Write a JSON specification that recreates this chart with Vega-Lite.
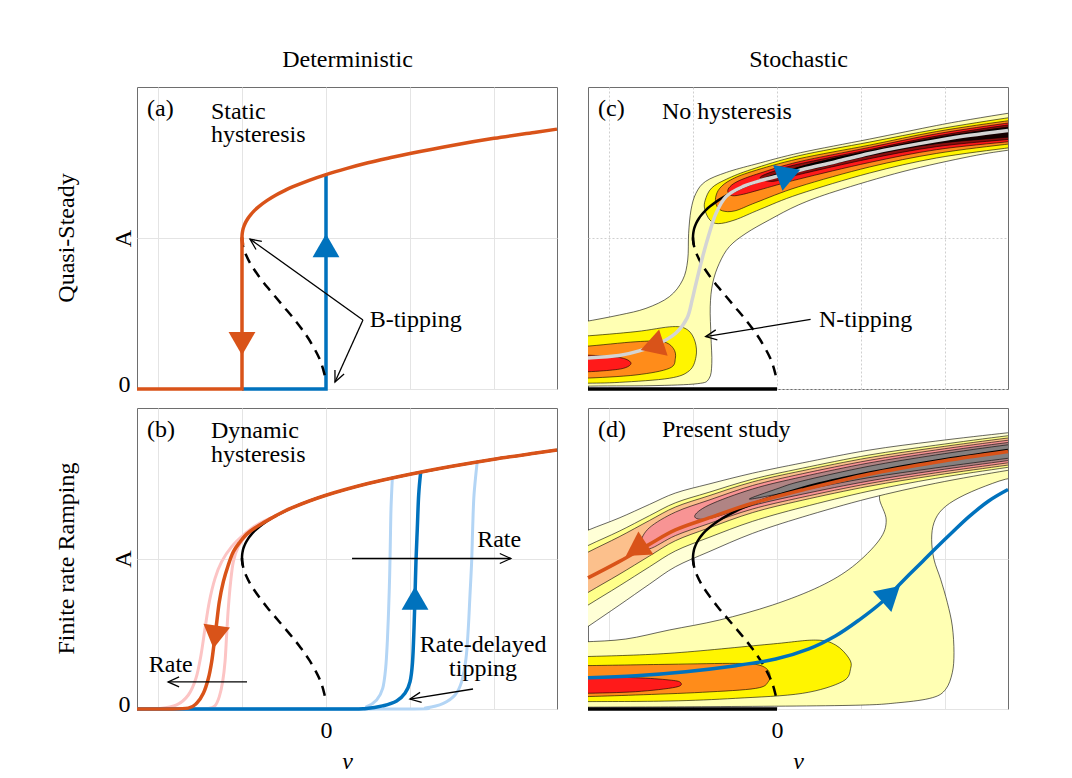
{
"$schema":"https://vega.github.io/schema/vega-lite/v6.json",
"background":"white",
"padding":{"left":54,"top":46,"right":10,"bottom":4},
"columns":2,
"spacing":{"row":19,"column":31},
"bounds":"flush",
"config":{
 "view":{"stroke":"#6e6e6e","strokeWidth":1},
 "font":"Liberation Serif",
 "axis":{"domain":false,"ticks":false,"tickSize":0,"grid":true,"gridColor":"#e4e4e4","gridWidth":1,"labelFont":"Liberation Serif","labelFontSize":24,"labelColor":"black","titleFont":"Liberation Serif","titleFontSize":24,"titleFontWeight":"normal","titleColor":"black","labelFlush":false,"labelOverlap":false},
 "title":{"font":"Liberation Serif","fontSize":24,"fontWeight":"normal","color":"black","anchor":"middle"},
 "text":{"font":"Liberation Serif","fontSize":24,"align":"left","baseline":"alphabetic","color":"black"}
},
"datasets":{
"br":[
{"s":"dash","x":-1,"y":1.004},{"s":"dash","x":-0.998,"y":0.981},{"s":"dash","x":-0.99,"y":0.953},{"s":"dash","x":-0.98,"y":0.93},{"s":"dash","x":-0.96,"y":0.898},{"s":"dash","x":-0.9,"y":0.83},{"s":"dash","x":-0.8,"y":0.747},{"s":"dash","x":-0.7,"y":0.675},{"s":"dash","x":-0.6,"y":0.609},{"s":"dash","x":-0.5,"y":0.543},{"s":"dash","x":-0.4,"y":0.477},{"s":"dash","x":-0.3,"y":0.406},{"s":"dash","x":-0.2,"y":0.326},{"s":"dash","x":-0.1,"y":0.227},{"s":"dash","x":-0.05,"y":0.16},{"s":"dash","x":-0.02,"y":0.101},{"s":"dash","x":-0.01,"y":0.071},
{"s":"up","x":-0.99,"y":0.953},{"s":"up","x":-0.998,"y":0.981},{"s":"up","x":-1,"y":1.004},{"s":"up","x":-0.998,"y":1.026},{"s":"up","x":-0.99,"y":1.053},{"s":"up","x":-0.98,"y":1.073},{"s":"up","x":-0.96,"y":1.1},{"s":"up","x":-0.93,"y":1.129},{"s":"up","x":-0.9,"y":1.152},{"s":"up","x":-0.85,"y":1.183},{"s":"up","x":-0.8,"y":1.208},{"s":"up","x":-0.7,"y":1.249},{"s":"up","x":-0.6,"y":1.283},{"s":"up","x":-0.5,"y":1.312},{"s":"up","x":-0.4,"y":1.338},{"s":"up","x":-0.2,"y":1.382},{"s":"up","x":0,"y":1.42},{"s":"up","x":0.25,"y":1.461},{"s":"up","x":0.5,"y":1.498},{"s":"up","x":0.75,"y":1.53},{"s":"up","x":1,"y":1.56},{"s":"up","x":1.5,"y":1.613},{"s":"up","x":2,"y":1.66},{"s":"up","x":2.5,"y":1.701},{"s":"up","x":2.75,"y":1.721}
],
"pa":[
{"s":"oL","x":-2.25,"y":0},{"s":"oL","x":-1,"y":0},{"s":"oL","x":-1,"y":1.004},
{"s":"bl","x":-1,"y":0},{"s":"bl","x":0,"y":0},{"s":"bl","x":0,"y":1.42}
],
"pb":[
{"s":"pL","x":-0.6,"y":1.283},{"s":"pL","x":-0.825,"y":1.223},{"s":"pL","x":-0.984,"y":1.156},{"s":"pL","x":-1.123,"y":1.079},{"s":"pL","x":-1.242,"y":0.979},{"s":"pL","x":-1.321,"y":0.868},{"s":"pL","x":-1.389,"y":0.713},{"s":"pL","x":-1.44,"y":0.536},{"s":"pL","x":-1.488,"y":0.359},{"s":"pL","x":-1.548,"y":0.204},{"s":"pL","x":-1.639,"y":0.093},{"s":"pL","x":-1.778,"y":0.027},{"s":"pL","x":-1.976,"y":0.003},{"s":"pL","x":-2.25,"y":0},
{"s":"pR","x":-0.6,"y":1.283},{"s":"pR","x":-0.8,"y":1.215},{"s":"pR","x":-0.944,"y":1.156},{"s":"pR","x":-1.044,"y":1.079},{"s":"pR","x":-1.103,"y":0.979},{"s":"pR","x":-1.135,"y":0.846},{"s":"pR","x":-1.163,"y":0.669},{"s":"pR","x":-1.183,"y":0.492},{"s":"pR","x":-1.202,"y":0.314},{"s":"pR","x":-1.23,"y":0.182},{"s":"pR","x":-1.27,"y":0.082},{"s":"pR","x":-1.321,"y":0.022},{"s":"pR","x":-1.4,"y":0.003},{"s":"pR","x":-1.6,"y":0},{"s":"pR","x":-2.25,"y":0},
{"s":"or","x":2.75,"y":1.721},{"s":"or","x":2.5,"y":1.701},{"s":"or","x":2,"y":1.66},{"s":"or","x":1.5,"y":1.613},{"s":"or","x":1,"y":1.56},{"s":"or","x":0.5,"y":1.498},{"s":"or","x":0,"y":1.42},{"s":"or","x":-0.4,"y":1.338},{"s":"or","x":-0.6,"y":1.283},{"s":"or","x":-0.75,"y":1.236},{"s":"or","x":-0.86,"y":1.198},{"s":"or","x":-0.944,"y":1.162},{"s":"or","x":-1.024,"y":1.11},{"s":"or","x":-1.103,"y":1.045},{"s":"or","x":-1.163,"y":0.957},{"s":"or","x":-1.222,"y":0.846},{"s":"or","x":-1.27,"y":0.713},{"s":"or","x":-1.3,"y":0.58},{"s":"or","x":-1.33,"y":0.447},{"s":"or","x":-1.361,"y":0.314},{"s":"or","x":-1.4,"y":0.204},{"s":"or","x":-1.46,"y":0.104},{"s":"or","x":-1.54,"y":0.038},{"s":"or","x":-1.64,"y":0.006},{"s":"or","x":-1.9,"y":0},{"s":"or","x":-2.25,"y":0},
{"s":"lbL","x":-2.25,"y":0},{"s":"lbL","x":0.325,"y":0},{"s":"lbL","x":0.484,"y":0.016},{"s":"lbL","x":0.603,"y":0.06},{"s":"lbL","x":0.675,"y":0.137},{"s":"lbL","x":0.71,"y":0.27},{"s":"lbL","x":0.73,"y":0.447},{"s":"lbL","x":0.746,"y":0.669},{"s":"lbL","x":0.758,"y":0.89},{"s":"lbL","x":0.766,"y":1.112},{"s":"lbL","x":0.774,"y":1.333},{"s":"lbL","x":0.79,"y":1.535},
{"s":"lbR","x":-2.25,"y":0},{"s":"lbR","x":0.881,"y":0},{"s":"lbR","x":1.198,"y":0.009},{"s":"lbR","x":1.397,"y":0.038},{"s":"lbR","x":1.536,"y":0.093},{"s":"lbR","x":1.615,"y":0.182},{"s":"lbR","x":1.667,"y":0.337},{"s":"lbR","x":1.694,"y":0.536},{"s":"lbR","x":1.714,"y":0.757},{"s":"lbR","x":1.734,"y":0.979},{"s":"lbR","x":1.746,"y":1.2},{"s":"lbR","x":1.762,"y":1.422},{"s":"lbR","x":1.8,"y":1.642},
{"s":"bl","x":-2.25,"y":0},{"s":"bl","x":0.087,"y":0},{"s":"bl","x":0.484,"y":0.004},{"s":"bl","x":0.683,"y":0.022},{"s":"bl","x":0.841,"y":0.053},{"s":"bl","x":0.94,"y":0.104},{"s":"bl","x":1.0,"y":0.18},{"s":"bl","x":1.03,"y":0.31},{"s":"bl","x":1.048,"y":0.54},{"s":"bl","x":1.06,"y":0.76},{"s":"bl","x":1.071,"y":0.98},{"s":"bl","x":1.087,"y":1.2},{"s":"bl","x":1.103,"y":1.42},{"s":"bl","x":1.127,"y":1.574}
],
"pc":[
{"s":"LY","x":3.2,"y":1.86},{"s":"LY","x":2.8,"y":1.83},{"s":"LY","x":2.3,"y":1.785},{"s":"LY","x":1.9,"y":1.745},{"s":"LY","x":1.1,"y":1.655},{"s":"LY","x":0.28,"y":1.565},{"s":"LY","x":-0.25,"y":1.49},{"s":"LY","x":-0.6,"y":1.435},{"s":"LY","x":-0.85,"y":1.375},{"s":"LY","x":-0.965,"y":1.296},{"s":"LY","x":-1.024,"y":1.185},{"s":"LY","x":-1.052,"y":1.031},{"s":"LY","x":-1.063,"y":0.854},{"s":"LY","x":-1.123,"y":0.722},{"s":"LY","x":-1.282,"y":0.611},{"s":"LY","x":-1.56,"y":0.534},{"s":"LY","x":-1.877,"y":0.49},{"s":"LY","x":-2.3,"y":0.445},{"s":"LY","x":-2.7,"y":0.41},{"s":"LY","x":-2.7,"y":0.0},{"s":"LY","x":-2.3,"y":0.018},{"s":"LY","x":-1.5,"y":0.022},{"s":"LY","x":-0.95,"y":0.035},{"s":"LY","x":-0.81,"y":0.068},{"s":"LY","x":-0.776,"y":0.17},{"s":"LY","x":-0.786,"y":0.347},{"s":"LY","x":-0.795,"y":0.545},{"s":"LY","x":-0.766,"y":0.7},{"s":"LY","x":-0.687,"y":0.832},{"s":"LY","x":-0.567,"y":0.943},{"s":"LY","x":-0.369,"y":1.031},{"s":"LY","x":-0.091,"y":1.12},{"s":"LY","x":0.26,"y":1.22},{"s":"LY","x":0.7,"y":1.31},{"s":"LY","x":1.5,"y":1.44},{"s":"LY","x":2.3,"y":1.54},{"s":"LY","x":2.8,"y":1.585},{"s":"LY","x":3.2,"y":1.61},
{"s":"Ylo","x":-2.7,"y":0.34},{"s":"Ylo","x":-2.3,"y":0.35},{"s":"Ylo","x":-1.679,"y":0.38},{"s":"Ylo","x":-1.242,"y":0.413},{"s":"Ylo","x":-1.063,"y":0.391},{"s":"Ylo","x":-0.975,"y":0.313},{"s":"Ylo","x":-0.964,"y":0.214},{"s":"Ylo","x":-1.044,"y":0.121},{"s":"Ylo","x":-1.282,"y":0.071},{"s":"Ylo","x":-1.877,"y":0.044},{"s":"Ylo","x":-2.3,"y":0.038},{"s":"Ylo","x":-2.7,"y":0.036},
{"s":"Olo","x":-2.7,"y":0.275},{"s":"Olo","x":-2.3,"y":0.282},{"s":"Olo","x":-1.679,"y":0.313},{"s":"Olo","x":-1.361,"y":0.313},{"s":"Olo","x":-1.234,"y":0.269},{"s":"Olo","x":-1.21,"y":0.203},{"s":"Olo","x":-1.282,"y":0.137},{"s":"Olo","x":-1.679,"y":0.093},{"s":"Olo","x":-2.3,"y":0.071},{"s":"Olo","x":-2.7,"y":0.068},
{"s":"Rlo","x":-2.7,"y":0.228},{"s":"Rlo","x":-2.3,"y":0.225},{"s":"Rlo","x":-1.956,"y":0.214},{"s":"Rlo","x":-1.8,"y":0.198},{"s":"Rlo","x":-1.738,"y":0.17},{"s":"Rlo","x":-1.8,"y":0.142},{"s":"Rlo","x":-1.956,"y":0.126},{"s":"Rlo","x":-2.3,"y":0.113},{"s":"Rlo","x":-2.7,"y":0.11},
{"s":"Yup","x":3.2,"y":1.825},{"s":"Yup","x":2.8,"y":1.8},{"s":"Yup","x":1.9,"y":1.72},{"s":"Yup","x":1.1,"y":1.635},{"s":"Yup","x":0.26,"y":1.545},{"s":"Yup","x":-0.3,"y":1.455},{"s":"Yup","x":-0.6,"y":1.39},{"s":"Yup","x":-0.78,"y":1.33},{"s":"Yup","x":-0.855,"y":1.25},{"s":"Yup","x":-0.86,"y":1.19},{"s":"Yup","x":-0.8,"y":1.12},{"s":"Yup","x":-0.7,"y":1.095},{"s":"Yup","x":-0.5,"y":1.12},{"s":"Yup","x":-0.2,"y":1.19},{"s":"Yup","x":0.26,"y":1.29},{"s":"Yup","x":1.1,"y":1.43},{"s":"Yup","x":1.9,"y":1.53},{"s":"Yup","x":2.8,"y":1.6},{"s":"Yup","x":3.2,"y":1.625},
{"s":"Oup","x":3.2,"y":1.8},{"s":"Oup","x":2.8,"y":1.78},{"s":"Oup","x":1.9,"y":1.705},{"s":"Oup","x":1.1,"y":1.615},{"s":"Oup","x":0.26,"y":1.525},{"s":"Oup","x":-0.3,"y":1.44},{"s":"Oup","x":-0.55,"y":1.385},{"s":"Oup","x":-0.68,"y":1.33},{"s":"Oup","x":-0.73,"y":1.27},{"s":"Oup","x":-0.72,"y":1.215},{"s":"Oup","x":-0.65,"y":1.18},{"s":"Oup","x":-0.5,"y":1.18},{"s":"Oup","x":-0.25,"y":1.235},{"s":"Oup","x":0.26,"y":1.34},{"s":"Oup","x":1.1,"y":1.47},{"s":"Oup","x":1.9,"y":1.56},{"s":"Oup","x":2.8,"y":1.625},{"s":"Oup","x":3.2,"y":1.645},
{"s":"Rup","x":3.2,"y":1.785},{"s":"Rup","x":2.8,"y":1.765},{"s":"Rup","x":1.9,"y":1.69},{"s":"Rup","x":1.1,"y":1.6},{"s":"Rup","x":0.26,"y":1.505},{"s":"Rup","x":-0.2,"y":1.43},{"s":"Rup","x":-0.45,"y":1.38},{"s":"Rup","x":-0.56,"y":1.34},{"s":"Rup","x":-0.585,"y":1.305},{"s":"Rup","x":-0.53,"y":1.28},{"s":"Rup","x":-0.4,"y":1.29},{"s":"Rup","x":-0.2,"y":1.32},{"s":"Rup","x":0.26,"y":1.39},{"s":"Rup","x":1.1,"y":1.5},{"s":"Rup","x":1.9,"y":1.585},{"s":"Rup","x":2.8,"y":1.64},{"s":"Rup","x":3.2,"y":1.66},
{"s":"Dup","x":3.2,"y":1.77},{"s":"Dup","x":2.8,"y":1.752},{"s":"Dup","x":1.9,"y":1.675},{"s":"Dup","x":1.1,"y":1.585},{"s":"Dup","x":0.26,"y":1.49},{"s":"Dup","x":-0.05,"y":1.44},{"s":"Dup","x":-0.2,"y":1.4},{"s":"Dup","x":-0.05,"y":1.375},{"s":"Dup","x":0.26,"y":1.42},{"s":"Dup","x":1.1,"y":1.525},{"s":"Dup","x":1.9,"y":1.605},{"s":"Dup","x":2.8,"y":1.655},{"s":"Dup","x":3.2,"y":1.672},
{"s":"Kup","x":3.2,"y":1.755},{"s":"Kup","x":2.8,"y":1.738},{"s":"Kup","x":1.9,"y":1.665},{"s":"Kup","x":1.1,"y":1.575},{"s":"Kup","x":0.4,"y":1.49},{"s":"Kup","x":0.1,"y":1.435},{"s":"Kup","x":0.4,"y":1.455},{"s":"Kup","x":1.1,"y":1.545},{"s":"Kup","x":1.9,"y":1.625},{"s":"Kup","x":2.8,"y":1.67},{"s":"Kup","x":3.2,"y":1.69},
{"s":"gr","x":-2.25,"y":0.206},{"s":"gr","x":-1.88,"y":0.222},{"s":"gr","x":-1.64,"y":0.252},{"s":"gr","x":-1.4,"y":0.302},{"s":"gr","x":-1.2,"y":0.372},{"s":"gr","x":-1.07,"y":0.47},{"s":"gr","x":-1.01,"y":0.59},{"s":"gr","x":-0.964,"y":0.7},{"s":"gr","x":-0.885,"y":0.876},{"s":"gr","x":-0.806,"y":1.031},{"s":"gr","x":-0.726,"y":1.163},{"s":"gr","x":-0.607,"y":1.274},{"s":"gr","x":-0.409,"y":1.34},{"s":"gr","x":-0.171,"y":1.384},{"s":"gr","x":0.107,"y":1.424},{"s":"gr","x":0.345,"y":1.46},{"s":"gr","x":0.7,"y":1.505},{"s":"gr","x":1.1,"y":1.56},{"s":"gr","x":1.5,"y":1.605},{"s":"gr","x":1.9,"y":1.645},{"s":"gr","x":2.3,"y":1.68},{"s":"gr","x":2.75,"y":1.712},
{"s":"bot","x":-2.25,"y":0},{"s":"bot","x":0,"y":0}
],
"pd":[
{"s":"LYf","x":-2.7,"y":0.44},{"s":"LYf","x":-2.3,"y":0.446},{"s":"LYf","x":-1.8,"y":0.465},{"s":"LYf","x":-1.282,"y":0.525},{"s":"LYf","x":-0.687,"y":0.591},{"s":"LYf","x":-0.052,"y":0.691},{"s":"LYf","x":0.504,"y":0.813},{"s":"LYf","x":0.9,"y":0.946},{"s":"LYf","x":1.218,"y":1.123},{"s":"LYf","x":1.3,"y":1.256},{"s":"LYf","x":1.22,"y":1.4},{"s":"LYf","x":1.3,"y":1.47},{"s":"LYf","x":1.6,"y":1.49},{"s":"LYf","x":2.0,"y":1.53},{"s":"LYf","x":2.5,"y":1.575},{"s":"LYf","x":2.8,"y":1.6},{"s":"LYf","x":3.1,"y":1.62},{"s":"LYf","x":3.1,"y":1.52},{"s":"LYf","x":2.8,"y":1.535},{"s":"LYf","x":2.484,"y":1.482},{"s":"LYf","x":2.167,"y":1.404},{"s":"LYf","x":1.968,"y":1.327},{"s":"LYf","x":1.869,"y":1.238},{"s":"LYf","x":1.841,"y":1.127},{"s":"LYf","x":1.869,"y":0.994},{"s":"LYf","x":1.948,"y":0.862},{"s":"LYf","x":2.028,"y":0.707},{"s":"LYf","x":2.087,"y":0.551},{"s":"LYf","x":2.107,"y":0.374},{"s":"LYf","x":2.087,"y":0.241},{"s":"LYf","x":2.008,"y":0.131},{"s":"LYf","x":1.849,"y":0.075},{"s":"LYf","x":1.452,"y":0.042},{"s":"LYf","x":0.857,"y":0.024},{"s":"LYf","x":-1,"y":0.015},{"s":"LYf","x":-2.3,"y":0.012},{"s":"LYf","x":-2.7,"y":0.01},
{"s":"Ylo","x":-2.7,"y":0.346},{"s":"Ylo","x":-2.3,"y":0.348},{"s":"Ylo","x":-1.286,"y":0.37},{"s":"Ylo","x":-0.095,"y":0.43},{"s":"Ylo","x":0.46,"y":0.458},{"s":"Ylo","x":0.698,"y":0.425},{"s":"Ylo","x":0.857,"y":0.337},{"s":"Ylo","x":0.877,"y":0.27},{"s":"Ylo","x":0.778,"y":0.182},{"s":"Ylo","x":0.302,"y":0.104},{"s":"Ylo","x":-0.492,"y":0.071},{"s":"Ylo","x":-1.286,"y":0.053},{"s":"Ylo","x":-2.3,"y":0.049},{"s":"Ylo","x":-2.7,"y":0.048},
{"s":"Olo","x":-2.7,"y":0.287},{"s":"Olo","x":-2.3,"y":0.288},{"s":"Olo","x":-1.286,"y":0.297},{"s":"Olo","x":-0.492,"y":0.303},{"s":"Olo","x":-0.214,"y":0.292},{"s":"Olo","x":-0.095,"y":0.248},{"s":"Olo","x":-0.103,"y":0.182},{"s":"Olo","x":-0.254,"y":0.137},{"s":"Olo","x":-0.889,"y":0.111},{"s":"Olo","x":-1.683,"y":0.093},{"s":"Olo","x":-2.3,"y":0.082},{"s":"Olo","x":-2.7,"y":0.08},
{"s":"Rlo","x":-2.7,"y":0.216},{"s":"Rlo","x":-2.3,"y":0.215},{"s":"Rlo","x":-1.683,"y":0.208},{"s":"Rlo","x":-1.286,"y":0.193},{"s":"Rlo","x":-1.15,"y":0.177},{"s":"Rlo","x":-1.206,"y":0.145},{"s":"Rlo","x":-1.683,"y":0.115},{"s":"Rlo","x":-2.3,"y":0.104},{"s":"Rlo","x":-2.7,"y":0.103},
{"s":"L5","x":-2.7,"y":1.08},{"s":"L5","x":-2.25,"y":1.188},{"s":"L5","x":-1.88,"y":1.269},{"s":"L5","x":-1.52,"y":1.359},{"s":"L5","x":-1.21,"y":1.435},{"s":"L5","x":-0.81,"y":1.495},{"s":"L5","x":-0.29,"y":1.567},{"s":"L5","x":0.3,"y":1.635},{"s":"L5","x":1.095,"y":1.72},{"s":"L5","x":1.89,"y":1.78},{"s":"L5","x":2.74,"y":1.835},{"s":"L5","x":3.2,"y":1.86},{"s":"L5","x":3.2,"y":1.62},{"s":"L5","x":2.74,"y":1.585},{"s":"L5","x":1.89,"y":1.5},{"s":"L5","x":1.095,"y":1.4},{"s":"L5","x":0.3,"y":1.275},{"s":"L5","x":-0.29,"y":1.167},{"s":"L5","x":-0.81,"y":1.045},{"s":"L5","x":-1.21,"y":0.945},{"s":"L5","x":-1.52,"y":0.829},{"s":"L5","x":-1.88,"y":0.689},{"s":"L5","x":-2.25,"y":0.548},{"s":"L5","x":-2.7,"y":0.377},
{"s":"Y5","x":-2.7,"y":0.96},{"s":"Y5","x":-2.25,"y":1.086},{"s":"Y5","x":-1.88,"y":1.181},{"s":"Y5","x":-1.52,"y":1.284},{"s":"Y5","x":-1.21,"y":1.37},{"s":"Y5","x":-0.81,"y":1.44},{"s":"Y5","x":-0.29,"y":1.527},{"s":"Y5","x":0.3,"y":1.6},{"s":"Y5","x":1.095,"y":1.6875},{"s":"Y5","x":1.89,"y":1.7525},{"s":"Y5","x":2.74,"y":1.815},{"s":"Y5","x":3.2,"y":1.84},{"s":"Y5","x":3.2,"y":1.64},{"s":"Y5","x":2.74,"y":1.605},{"s":"Y5","x":1.89,"y":1.5325},{"s":"Y5","x":1.095,"y":1.4475},{"s":"Y5","x":0.3,"y":1.34},{"s":"Y5","x":-0.29,"y":1.247},{"s":"Y5","x":-0.81,"y":1.14},{"s":"Y5","x":-1.21,"y":1.05},{"s":"Y5","x":-1.52,"y":0.944},{"s":"Y5","x":-1.88,"y":0.817},{"s":"Y5","x":-2.25,"y":0.69},{"s":"Y5","x":-2.7,"y":0.53},
{"s":"O5","x":-2.7,"y":0.91},{"s":"O5","x":-2.25,"y":1.042},{"s":"O5","x":-1.88,"y":1.144},{"s":"O5","x":-1.52,"y":1.252},{"s":"O5","x":-1.21,"y":1.342},{"s":"O5","x":-0.81,"y":1.417},{"s":"O5","x":-0.29,"y":1.509},{"s":"O5","x":0.3,"y":1.583},{"s":"O5","x":1.095,"y":1.67},{"s":"O5","x":1.89,"y":1.737},{"s":"O5","x":2.74,"y":1.8},{"s":"O5","x":3.2,"y":1.826},{"s":"O5","x":3.2,"y":1.655},{"s":"O5","x":2.74,"y":1.62},{"s":"O5","x":1.89,"y":1.553},{"s":"O5","x":1.095,"y":1.48},{"s":"O5","x":0.3,"y":1.387},{"s":"O5","x":-0.29,"y":1.305},{"s":"O5","x":-0.81,"y":1.203},{"s":"O5","x":-1.21,"y":1.118},{"s":"O5","x":-1.52,"y":1.016},{"s":"O5","x":-1.88,"y":0.894},{"s":"O5","x":-2.25,"y":0.774},{"s":"O5","x":-2.7,"y":0.62},
{"s":"R5","x":-1.62,"y":1.105},{"s":"R5","x":-1.52,"y":1.204},{"s":"R5","x":-1.21,"y":1.308},{"s":"R5","x":-0.81,"y":1.388},{"s":"R5","x":-0.29,"y":1.485},{"s":"R5","x":0.3,"y":1.563},{"s":"R5","x":1.095,"y":1.652},{"s":"R5","x":1.89,"y":1.721},{"s":"R5","x":2.74,"y":1.785},{"s":"R5","x":3.2,"y":1.81},{"s":"R5","x":3.2,"y":1.67},{"s":"R5","x":2.74,"y":1.635},{"s":"R5","x":1.89,"y":1.569},{"s":"R5","x":1.095,"y":1.498},{"s":"R5","x":0.3,"y":1.407},{"s":"R5","x":-0.29,"y":1.329},{"s":"R5","x":-0.81,"y":1.232},{"s":"R5","x":-1.21,"y":1.152},{"s":"R5","x":-1.52,"y":1.064},
{"s":"D5","x":-0.98,"y":1.28},{"s":"D5","x":-0.81,"y":1.355},{"s":"D5","x":-0.29,"y":1.462},{"s":"D5","x":0.3,"y":1.543},{"s":"D5","x":1.095,"y":1.635},{"s":"D5","x":1.89,"y":1.705},{"s":"D5","x":2.74,"y":1.77},{"s":"D5","x":3.2,"y":1.795},{"s":"D5","x":3.2,"y":1.685},{"s":"D5","x":2.74,"y":1.65},{"s":"D5","x":1.89,"y":1.585},{"s":"D5","x":1.095,"y":1.515},{"s":"D5","x":0.3,"y":1.427},{"s":"D5","x":-0.29,"y":1.352},{"s":"D5","x":-0.81,"y":1.265},
{"s":"K5","x":-0.33,"y":1.395},{"s":"K5","x":0.0,"y":1.463},{"s":"K5","x":0.3,"y":1.515},{"s":"K5","x":1.095,"y":1.613},{"s":"K5","x":1.89,"y":1.688},{"s":"K5","x":2.74,"y":1.755},{"s":"K5","x":3.2,"y":1.782},{"s":"K5","x":3.2,"y":1.692},{"s":"K5","x":2.74,"y":1.665},{"s":"K5","x":1.89,"y":1.602},{"s":"K5","x":1.095,"y":1.537},{"s":"K5","x":0.3,"y":1.455},{"s":"K5","x":0.0,"y":1.427},
{"s":"or","x":2.75,"y":1.711},{"s":"or","x":1.89,"y":1.64},{"s":"or","x":1.095,"y":1.56},{"s":"or","x":0.3,"y":1.455},{"s":"or","x":-0.29,"y":1.367},{"s":"or","x":-0.81,"y":1.27},{"s":"or","x":-1.21,"y":1.19},{"s":"or","x":-1.52,"y":1.094},{"s":"or","x":-1.88,"y":0.979},{"s":"or","x":-2.25,"y":0.871},
{"s":"bl","x":-2.25,"y":0.208},{"s":"bl","x":-1.68,"y":0.221},{"s":"bl","x":-1.087,"y":0.248},{"s":"bl","x":-0.49,"y":0.288},{"s":"bl","x":-0.016,"y":0.332},{"s":"bl","x":0.38,"y":0.4},{"s":"bl","x":0.7,"y":0.487},{"s":"bl","x":0.976,"y":0.591},{"s":"bl","x":1.254,"y":0.713},{"s":"bl","x":1.49,"y":0.846},{"s":"bl","x":1.73,"y":0.979},{"s":"bl","x":1.89,"y":1.068},{"s":"bl","x":2.087,"y":1.174},{"s":"bl","x":2.286,"y":1.278},{"s":"bl","x":2.52,"y":1.382},{"s":"bl","x":2.75,"y":1.458},
{"s":"bot","x":-2.25,"y":0},{"s":"bot","x":0,"y":0}
]
},
"concat":[
{
"width":420,"height":302,
"title":{"text":"Quasi-Steady","orient":"left","frame":"group","anchor":"middle","offset":13,"baseline":"alphabetic"},
"resolve":{"axis":{"x":"independent"}},
"encoding":{
 "y":{"field":"y","type":"quantitative","scale":{"domain":[0,2],"nice":false,"zero":false},"axis":{"values":[0,1],"labelExpr":"datum.value == 0 ? '0' : ''","labelPadding":7,"labelAlign":"right","labelBaseline":"middle","labelOffset":-5,"title":"A","titleX":-7,"titleY":151,"titleAngle":-90,"titleAlign":"center","titleBaseline":"alphabetic"}}
},
"layer":[
{
"encoding":{"x":{"field":"x","type":"quantitative","scale":{"domain":[-2.25,2.75],"nice":false,"zero":false},"axis":{"orient":"bottom","values":[-2,-1,0,1,2],"labels":false,"title":null}}},
"layer":[
 {"data":{"name":"pa"},"transform":[{"filter":"datum.s=='bl'"}],"mark":{"type":"line","color":"#0072bd","strokeWidth":3.5},"encoding":{"order":{"value":null}}},
 {"data":{"name":"br"},"transform":[{"filter":"datum.s=='dash'"}],"mark":{"type":"line","color":"black","strokeWidth":2.5,"strokeDash":[10,7],"interpolate":"cardinal"},"encoding":{"order":{"value":null}}},
 {"data":{"name":"pa"},"transform":[{"filter":"datum.s=='oL'"}],"mark":{"type":"line","color":"#d95319","strokeWidth":3.5},"encoding":{"order":{"value":null}}},
 {"data":{"name":"br"},"transform":[{"filter":"datum.s=='up'"}],"mark":{"type":"line","color":"#d95319","strokeWidth":3.5,"interpolate":"cardinal"},"encoding":{"order":{"value":null}}},
 {"data":{"values":[{"x":-1,"y":0.3}]},"mark":{"type":"point","shape":"triangle-down","filled":true,"color":"#d95319","size":720,"opacity":1}},
 {"data":{"values":[{"x":0,"y":0.95}]},"mark":{"type":"point","shape":"triangle-up","filled":true,"color":"#0072bd","size":720,"opacity":1}},
 {"data":{"values":[{"x":0.44,"y":0.457,"x2":-0.905,"y2":0.993},{"x":0.44,"y":0.457,"x2":0.107,"y2":0.046}]},"mark":{"type":"rule","color":"black","strokeWidth":1.3},"encoding":{"x2":{"field":"x2"},"y2":{"field":"y2"}}},
 {"data":{"values":[{"x":-0.905,"y":0.993}]},"mark":{"type":"point","shape":"M-2.2,-1L0,0L-2.2,1","filled":false,"stroke":"black","strokeWidth":1.3,"size":100,"opacity":1,"angle":215.6}},
 {"data":{"values":[{"x":0.107,"y":0.046}]},"mark":{"type":"point","shape":"M-2.2,-1L0,0L-2.2,1","filled":false,"stroke":"black","strokeWidth":1.3,"size":100,"opacity":1,"angle":114.3}}
]
},
{"data":{"values":[{"x":-2.13,"y":1.81,"t":"(a)"},{"x":-1.37,"y":1.79,"t":"Static\nhysteresis"},{"x":0.52,"y":0.41,"t":"B-tipping"}]},"mark":{"type":"text","lineBreak":"\n","lineHeight":23.5},
 "encoding":{"x":{"field":"x","type":"quantitative","scale":{"domain":[-2.25,2.75],"nice":false,"zero":false},"axis":{"orient":"top","labels":false,"grid":false,"ticks":false,"domain":false,"title":"Deterministic","titleY":-21,"titleBaseline":"alphabetic","titleAngle":0}},"text":{"field":"t"}}}
]
},
{
"width":420,"height":302,
"resolve":{"axis":{"x":"independent"}},
"encoding":{
 "y":{"field":"y","type":"quantitative","scale":{"domain":[0,2],"nice":false,"zero":false},"axis":{"values":[0,1],"labels":false,"title":null,"gridDash":[2,2],"gridColor":"#cfcfcf"}}
},
"layer":[
{
"encoding":{"x":{"field":"x","type":"quantitative","scale":{"domain":[-2.25,2.75],"nice":false,"zero":false},"axis":{"orient":"bottom","values":[-2,-1,0,1,2],"labels":false,"title":null,"gridDash":[2,2],"gridColor":"#cfcfcf"}}},
"layer":[
 {"data":{"name":"pc"},"transform":[{"filter":"datum.s=='LY'"}],"mark":{"type":"line","filled":true,"fill":"#ffffb3","stroke":"black","strokeWidth":0.6,"interpolate":"cardinal-closed","clip":true},"encoding":{"order":{"value":null}}},
 {"data":{"name":"pc"},"transform":[{"filter":"datum.s=='Ylo'"}],"mark":{"type":"line","filled":true,"fill":"#fff500","stroke":"black","strokeWidth":0.6,"interpolate":"cardinal-closed","clip":true},"encoding":{"order":{"value":null}}},
 {"data":{"name":"pc"},"transform":[{"filter":"datum.s=='Olo'"}],"mark":{"type":"line","filled":true,"fill":"#ff8c1a","stroke":"black","strokeWidth":0.6,"interpolate":"cardinal-closed","clip":true},"encoding":{"order":{"value":null}}},
 {"data":{"name":"pc"},"transform":[{"filter":"datum.s=='Rlo'"}],"mark":{"type":"line","filled":true,"fill":"#ff1a1a","stroke":"black","strokeWidth":0.6,"interpolate":"cardinal-closed","clip":true},"encoding":{"order":{"value":null}}},
 {"data":{"name":"pc"},"transform":[{"filter":"datum.s=='Yup'"}],"mark":{"type":"line","filled":true,"fill":"#fff500","stroke":"black","strokeWidth":0.6,"interpolate":"cardinal-closed","clip":true},"encoding":{"order":{"value":null}}},
 {"data":{"name":"pc"},"transform":[{"filter":"datum.s=='Oup'"}],"mark":{"type":"line","filled":true,"fill":"#ff8c1a","stroke":"black","strokeWidth":0.6,"interpolate":"cardinal-closed","clip":true},"encoding":{"order":{"value":null}}},
 {"data":{"name":"pc"},"transform":[{"filter":"datum.s=='Rup'"}],"mark":{"type":"line","filled":true,"fill":"#ff1a1a","stroke":"black","strokeWidth":0.6,"interpolate":"cardinal-closed","clip":true},"encoding":{"order":{"value":null}}},
 {"data":{"name":"pc"},"transform":[{"filter":"datum.s=='Dup'"}],"mark":{"type":"line","filled":true,"fill":"#8a0f0f","stroke":"black","strokeWidth":0.6,"interpolate":"cardinal-closed","clip":true},"encoding":{"order":{"value":null}}},
 {"data":{"name":"pc"},"transform":[{"filter":"datum.s=='Kup'"}],"mark":{"type":"line","filled":true,"fill":"#140000","stroke":"black","strokeWidth":0.6,"interpolate":"cardinal-closed","clip":true},"encoding":{"order":{"value":null}}},
 {"data":{"name":"br"},"transform":[{"filter":"datum.s=='dash'"}],"mark":{"type":"line","color":"black","strokeWidth":2.5,"strokeDash":[10,7],"interpolate":"cardinal"},"encoding":{"order":{"value":null}}},
 {"data":{"name":"br"},"transform":[{"filter":"datum.s=='up'"}],"mark":{"type":"line","color":"black","strokeWidth":2.5,"interpolate":"cardinal"},"encoding":{"order":{"value":null}}},
 {"data":{"name":"pc"},"transform":[{"filter":"datum.s=='gr'"}],"mark":{"type":"line","color":"#d4d4d4","strokeWidth":3.5,"interpolate":"cardinal"},"encoding":{"order":{"value":null}}},
 {"data":{"name":"pc"},"transform":[{"filter":"datum.s=='bot'"}],"mark":{"type":"line","color":"black","strokeWidth":3.5},"encoding":{"order":{"value":null}}},
 {"data":{"values":[{"x":-1.433,"y":0.316}]},"mark":{"type":"point","shape":"triangle-up","filled":true,"color":"#d95319","size":760,"opacity":1,"angle":12}},
 {"data":{"values":[{"x":0.09,"y":1.39}]},"mark":{"type":"point","shape":"triangle-down","filled":true,"color":"#0072bd","size":760,"opacity":1,"angle":10}},
 {"data":{"values":[{"x":0.4,"y":0.461,"x2":-0.849,"y2":0.347}]},"mark":{"type":"rule","color":"black","strokeWidth":1.3},"encoding":{"x2":{"field":"x2"},"y2":{"field":"y2"}}},
 {"data":{"values":[{"x":-0.849,"y":0.347}]},"mark":{"type":"point","shape":"M-2.2,-1L0,0L-2.2,1","filled":false,"stroke":"black","strokeWidth":1.3,"size":100,"opacity":1,"angle":170.7}}
]
},
{"data":{"values":[{"x":-2.13,"y":1.81,"t":"(c)"},{"x":-1.37,"y":1.79,"t":"No hysteresis"},{"x":0.5,"y":0.413,"t":"N-tipping"}]},"mark":{"type":"text"},
 "encoding":{"x":{"field":"x","type":"quantitative","scale":{"domain":[-2.25,2.75],"nice":false,"zero":false},"axis":{"orient":"top","labels":false,"grid":false,"ticks":false,"domain":false,"title":"Stochastic","titleY":-21,"titleBaseline":"alphabetic","titleAngle":0}},"text":{"field":"t"}}}
]
},
{
"width":420,"height":301,
"title":{"text":"Finite rate Ramping","orient":"left","frame":"group","anchor":"middle","offset":13,"baseline":"alphabetic"},
"encoding":{
 "x":{"field":"x","type":"quantitative","scale":{"domain":[-2.25,2.75],"nice":false,"zero":false},"axis":{"values":[-2,-1,0,1,2],"labelExpr":"datum.value == 0 ? '0' : ''","labelPadding":9,"labelBaseline":"top","title":"ν","titleFontStyle":"italic","titleY":59,"titleBaseline":"alphabetic"}},
 "y":{"field":"y","type":"quantitative","scale":{"domain":[0,2],"nice":false,"zero":false},"axis":{"values":[0,1],"labelExpr":"datum.value == 0 ? '0' : ''","labelPadding":7,"labelAlign":"right","labelBaseline":"middle","labelOffset":-5,"title":"A","titleX":-7,"titleY":150.5,"titleAngle":-90,"titleAlign":"center","titleBaseline":"alphabetic"}}
},
"layer":[
 {"data":{"name":"pb"},"transform":[{"filter":"datum.s=='pL'"}],"mark":{"type":"line","color":"#fcc4c4","strokeWidth":3,"interpolate":"cardinal"},"encoding":{"order":{"value":null}}},
 {"data":{"name":"pb"},"transform":[{"filter":"datum.s=='pR'"}],"mark":{"type":"line","color":"#fcc4c4","strokeWidth":3,"interpolate":"cardinal"},"encoding":{"order":{"value":null}}},
 {"data":{"name":"pb"},"transform":[{"filter":"datum.s=='lbL'"}],"mark":{"type":"line","color":"#b3d5f5","strokeWidth":3,"interpolate":"cardinal"},"encoding":{"order":{"value":null}}},
 {"data":{"name":"pb"},"transform":[{"filter":"datum.s=='lbR'"}],"mark":{"type":"line","color":"#b3d5f5","strokeWidth":3,"interpolate":"cardinal"},"encoding":{"order":{"value":null}}},
 {"data":{"name":"br"},"transform":[{"filter":"datum.s=='dash'"}],"mark":{"type":"line","color":"black","strokeWidth":2.5,"strokeDash":[10,7],"interpolate":"cardinal"},"encoding":{"order":{"value":null}}},
 {"data":{"name":"br"},"transform":[{"filter":"datum.s=='up'"}],"mark":{"type":"line","color":"black","strokeWidth":2.5,"interpolate":"cardinal"},"encoding":{"order":{"value":null}}},
 {"data":{"name":"pb"},"transform":[{"filter":"datum.s=='bl'"}],"mark":{"type":"line","color":"#0072bd","strokeWidth":3.5,"interpolate":"cardinal"},"encoding":{"order":{"value":null}}},
 {"data":{"name":"pb"},"transform":[{"filter":"datum.s=='or'"}],"mark":{"type":"line","color":"#d95319","strokeWidth":3.5,"interpolate":"cardinal"},"encoding":{"order":{"value":null}}},
 {"data":{"values":[{"x":-1.32,"y":0.478}]},"mark":{"type":"point","shape":"triangle-down","filled":true,"color":"#d95319","size":720,"opacity":1,"angle":8}},
 {"data":{"values":[{"x":1.06,"y":0.737}]},"mark":{"type":"point","shape":"triangle-up","filled":true,"color":"#0072bd","size":720,"opacity":1}},
 {"data":{"values":[{"x":0.31,"y":1.0,"x2":2.2,"y2":1.0},{"x":-0.94,"y":0.18,"x2":-1.88,"y2":0.18},{"x":1.75,"y":0.133,"x2":1.0,"y2":0.066}]},"mark":{"type":"rule","color":"black","strokeWidth":1.3},"encoding":{"x2":{"field":"x2"},"y2":{"field":"y2"}}},
 {"data":{"values":[{"x":2.2,"y":1.0}]},"mark":{"type":"point","shape":"M-2.2,-1L0,0L-2.2,1","filled":false,"stroke":"black","strokeWidth":1.3,"size":100,"opacity":1,"angle":0}},
 {"data":{"values":[{"x":-1.88,"y":0.18}]},"mark":{"type":"point","shape":"M-2.2,-1L0,0L-2.2,1","filled":false,"stroke":"black","strokeWidth":1.3,"size":100,"opacity":1,"angle":180}},
 {"data":{"values":[{"x":1.0,"y":0.066}]},"mark":{"type":"point","shape":"M-2.2,-1L0,0L-2.2,1","filled":false,"stroke":"black","strokeWidth":1.3,"size":100,"opacity":1,"angle":171}},
 {"data":{"values":[{"x":-2.13,"y":1.81,"t":"(b)"},{"x":-1.37,"y":1.8,"t":"Dynamic\nhysteresis"},{"x":1.8,"y":1.076,"t":"Rate"},{"x":-2.11,"y":0.246,"t":"Rate"}]},"mark":{"type":"text","lineBreak":"\n","lineHeight":23.5},"encoding":{"text":{"field":"t"}}},
 {"data":{"values":[{"x":1.87,"y":0.382,"t":"Rate-delayed\ntipping"}]},"mark":{"type":"text","align":"center","lineBreak":"\n","lineHeight":24},"encoding":{"text":{"field":"t"}}}
]
},
{
"width":420,"height":301,
"encoding":{
 "x":{"field":"x","type":"quantitative","scale":{"domain":[-2.25,2.75],"nice":false,"zero":false},"axis":{"values":[-2,-1,0,1,2],"labelExpr":"datum.value == 0 ? '0' : ''","labelPadding":9,"labelBaseline":"top","title":"ν","titleFontStyle":"italic","titleY":59,"titleBaseline":"alphabetic"}},
 "y":{"field":"y","type":"quantitative","scale":{"domain":[0,2],"nice":false,"zero":false},"axis":{"values":[0,1],"labels":false,"title":null}}
},
"layer":[
 {"data":{"name":"pd"},"transform":[{"filter":"datum.s=='LYf'"}],"mark":{"type":"line","filled":true,"fill":"#ffffb3","stroke":"black","strokeWidth":0.6,"interpolate":"cardinal-closed","clip":true},"encoding":{"order":{"value":null}}},
 {"data":{"name":"pd"},"transform":[{"filter":"datum.s=='Ylo'"}],"mark":{"type":"line","filled":true,"fill":"#fff500","stroke":"black","strokeWidth":0.6,"interpolate":"cardinal-closed","clip":true},"encoding":{"order":{"value":null}}},
 {"data":{"name":"pd"},"transform":[{"filter":"datum.s=='Olo'"}],"mark":{"type":"line","filled":true,"fill":"#ff8c1a","stroke":"black","strokeWidth":0.6,"interpolate":"cardinal-closed","clip":true},"encoding":{"order":{"value":null}}},
 {"data":{"name":"pd"},"transform":[{"filter":"datum.s=='Rlo'"}],"mark":{"type":"line","filled":true,"fill":"#ff1a1a","stroke":"black","strokeWidth":0.6,"interpolate":"cardinal-closed","clip":true},"encoding":{"order":{"value":null}}},
 {"data":{"name":"pd"},"transform":[{"filter":"datum.s=='L5'"}],"mark":{"type":"line","filled":true,"fill":"#ffffd6","stroke":"black","strokeWidth":0.6,"interpolate":"cardinal-closed","clip":true},"encoding":{"order":{"value":null}}},
 {"data":{"name":"pd"},"transform":[{"filter":"datum.s=='Y5'"}],"mark":{"type":"line","filled":true,"fill":"#ffff8a","stroke":"black","strokeWidth":0.6,"interpolate":"cardinal-closed","clip":true},"encoding":{"order":{"value":null}}},
 {"data":{"name":"pd"},"transform":[{"filter":"datum.s=='O5'"}],"mark":{"type":"line","filled":true,"fill":"#fcc08c","stroke":"black","strokeWidth":0.6,"interpolate":"cardinal-closed","clip":true},"encoding":{"order":{"value":null}}},
 {"data":{"name":"pd"},"transform":[{"filter":"datum.s=='R5'"}],"mark":{"type":"line","filled":true,"fill":"#f89494","stroke":"black","strokeWidth":0.6,"interpolate":"cardinal-closed","clip":true},"encoding":{"order":{"value":null}}},
 {"data":{"name":"pd"},"transform":[{"filter":"datum.s=='D5'"}],"mark":{"type":"line","filled":true,"fill":"#b08484","stroke":"black","strokeWidth":0.6,"interpolate":"cardinal-closed","clip":true},"encoding":{"order":{"value":null}}},
 {"data":{"name":"pd"},"transform":[{"filter":"datum.s=='K5'"}],"mark":{"type":"line","filled":true,"fill":"#858080","stroke":"black","strokeWidth":0.6,"interpolate":"cardinal-closed","clip":true},"encoding":{"order":{"value":null}}},
 {"data":{"name":"br"},"transform":[{"filter":"datum.s=='dash'"}],"mark":{"type":"line","color":"black","strokeWidth":2.5,"strokeDash":[10,7],"interpolate":"cardinal"},"encoding":{"order":{"value":null}}},
 {"data":{"name":"br"},"transform":[{"filter":"datum.s=='up'"}],"mark":{"type":"line","color":"black","strokeWidth":2.5,"interpolate":"cardinal"},"encoding":{"order":{"value":null}}},
 {"data":{"name":"pd"},"transform":[{"filter":"datum.s=='or'"}],"mark":{"type":"line","color":"#d95319","strokeWidth":3.5,"interpolate":"cardinal"},"encoding":{"order":{"value":null}}},
 {"data":{"name":"pd"},"transform":[{"filter":"datum.s=='bl'"}],"mark":{"type":"line","color":"#0072bd","strokeWidth":3.5,"interpolate":"cardinal"},"encoding":{"order":{"value":null}}},
 {"data":{"name":"pd"},"transform":[{"filter":"datum.s=='bot'"}],"mark":{"type":"line","color":"black","strokeWidth":3.5},"encoding":{"order":{"value":null}}},
 {"data":{"values":[{"x":-1.68,"y":1.06}]},"mark":{"type":"point","shape":"triangle-up","filled":true,"color":"#d95319","size":760,"opacity":1,"angle":237}},
 {"data":{"values":[{"x":1.357,"y":0.765}]},"mark":{"type":"point","shape":"triangle-up","filled":true,"color":"#0072bd","size":760,"opacity":1,"angle":48}},
 {"data":{"values":[{"x":-2.13,"y":1.81,"t":"(d)"},{"x":-1.37,"y":1.81,"t":"Present study"}]},"mark":{"type":"text"},"encoding":{"text":{"field":"t"}}}
]
}
]
}
